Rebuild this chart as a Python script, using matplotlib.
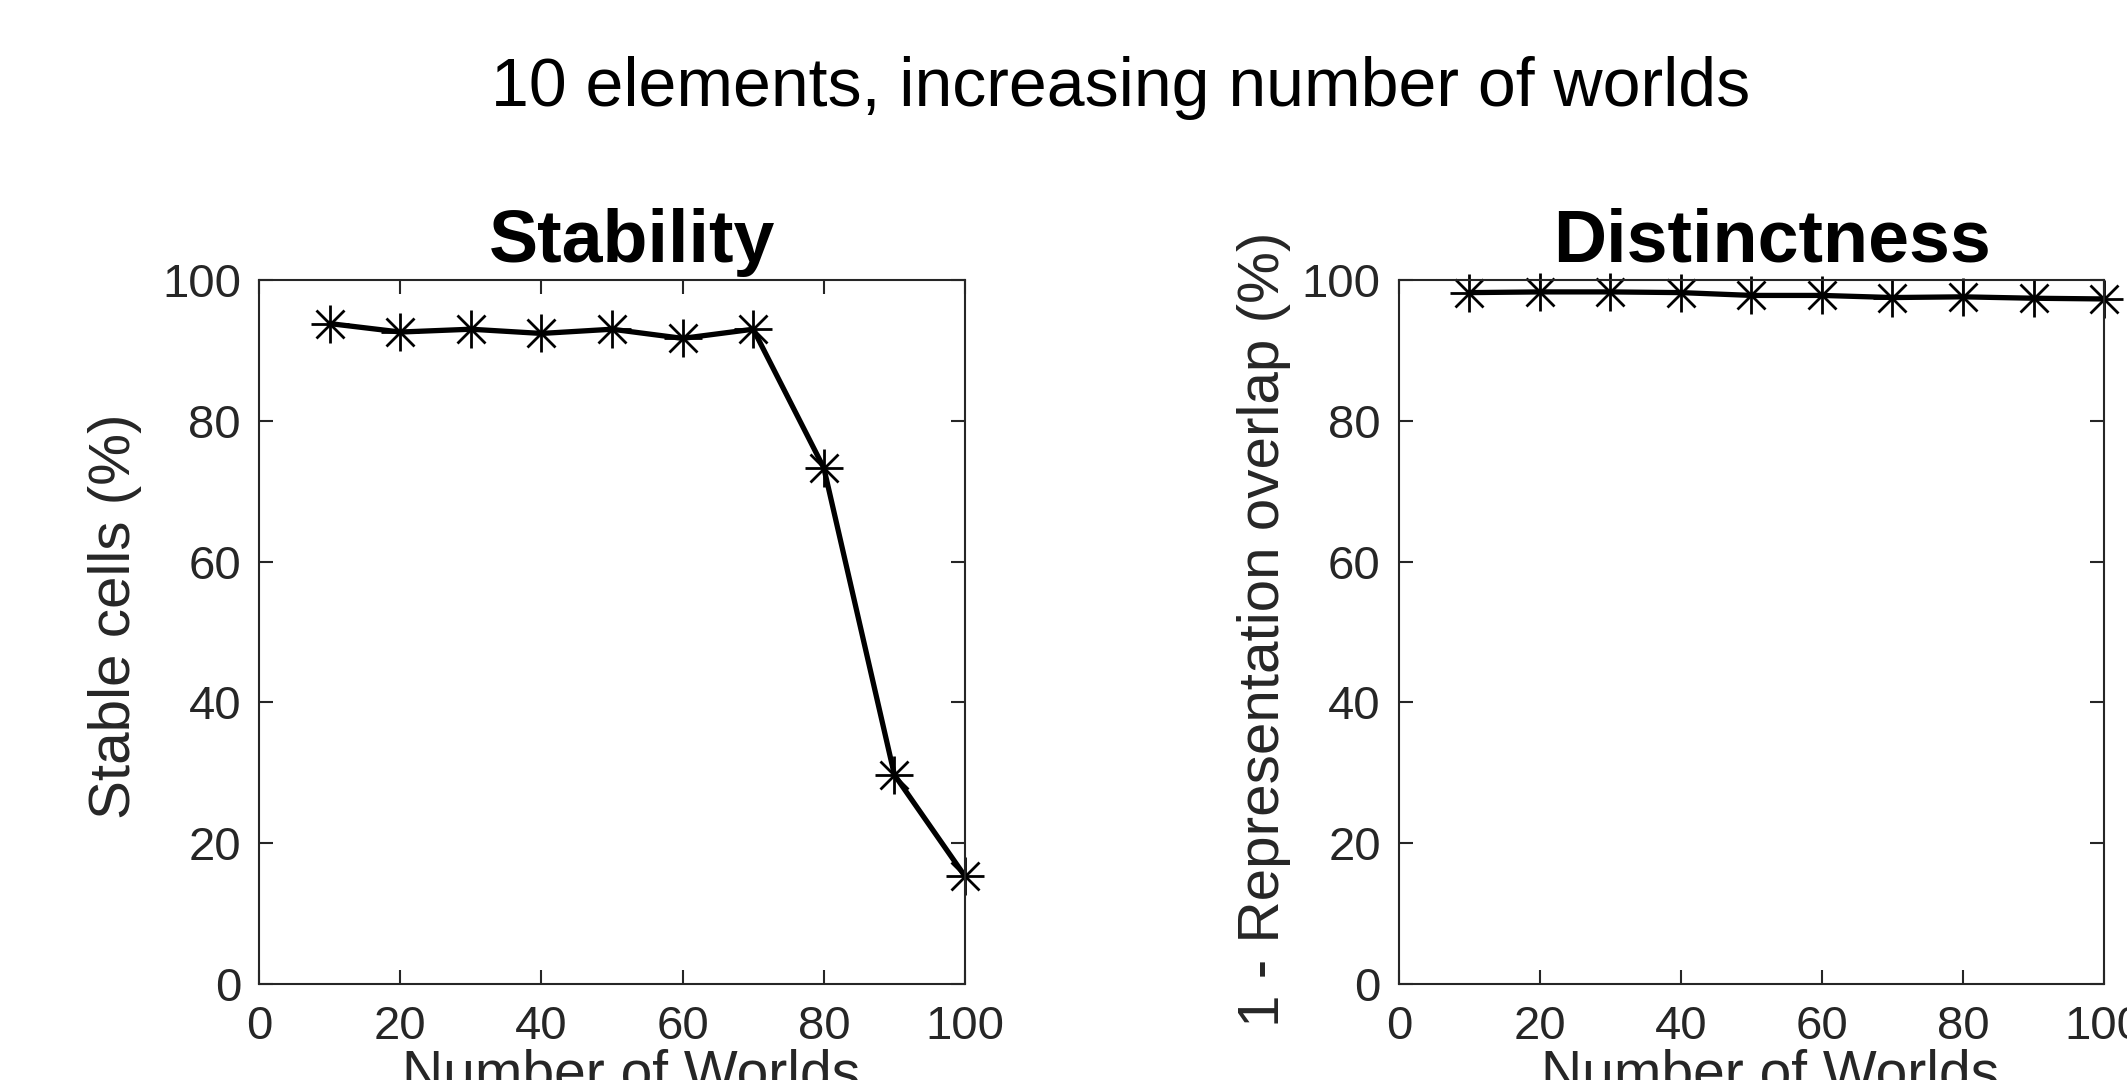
import matplotlib
matplotlib.use("Agg")
import matplotlib.pyplot as plt

plt.rcParams['font.family'] = ['Liberation Sans', 'DejaVu Sans']

# data
worlds = [10, 20, 30, 40, 50, 60, 70, 80, 90, 100]
stability = [93.8, 92.6, 93.0, 92.4, 93.0, 91.7, 93.0, 73.3, 29.7, 15.3]
distinctness = [98.2, 98.3, 98.3, 98.2, 97.8, 97.8, 97.5, 97.6, 97.4, 97.3]
ticks = [0, 20, 40, 60, 80, 100]

fig = plt.figure(figsize=(21.27, 10.80), dpi=100)
fig.patch.set_facecolor('white')

axc = '#262626'

def setup(ax, title, ylabel, ylab_x, ylab_y):
    ax.set_xlim(0, 100)
    ax.set_ylim(0, 100)
    ax.set_xticks(ticks)
    ax.set_yticks(ticks)
    ax.tick_params(direction='in', length=10, width=1.5, color=axc,
                   labelsize=34, labelcolor=axc, top=True, right=True)
    ax.tick_params(axis='x', pad=15)
    ax.tick_params(axis='y', pad=13)
    for s in ax.spines.values():
        s.set_linewidth(1.5)
        s.set_color(axc)
    ax.set_title(title, fontsize=53, fontweight='bold', pad=13, x=0.529)
    ax.set_ylabel(ylabel, fontsize=42, color=axc)
    ax.yaxis.set_label_coords(ylab_x, ylab_y)
    ax.set_xlabel('Number of Worlds', fontsize=41, color=axc, va='top')
    ax.xaxis.set_label_coords(0.527, -0.091)

def plot_star(ax, x, y):
    # matlab-style asterisk = plus + cross
    ax.plot(x, y, color='black', lw=3.8, marker='+', ms=28, mew=2.0, clip_on=False)
    ax.plot(x, y, color='none', marker='x', ms=20, mew=2.0, mec='black', ls='none', clip_on=False)

ax1 = fig.add_axes([0.1218, 0.0889, 0.3319, 0.6519])
plot_star(ax1, worlds, stability)
setup(ax1, 'Stability', 'Stable cells (%)', -0.166, 0.523)

ax2 = fig.add_axes([0.6577, 0.0889, 0.3315, 0.6519])
plot_star(ax2, worlds, distinctness)
setup(ax2, 'Distinctness', '1 - Representation overlap (%)', -0.153, 0.504)

fig.text(0.527, 0.902, '10 elements, increasing number of worlds', fontsize=49,
         ha='center', va='baseline')

fig.savefig('out.png', dpi=100)
